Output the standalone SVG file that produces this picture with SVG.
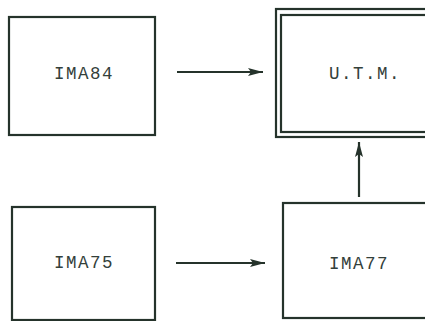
<svg xmlns="http://www.w3.org/2000/svg" width="425" height="321" viewBox="0 0 425 321">
<style>
.box{fill:none;stroke:#25332b;stroke-width:2.2}
.lbl{font-family:"Liberation Mono","DejaVu Sans Mono",monospace;font-size:17.5px;fill:#33403a;text-anchor:middle;letter-spacing:1.5px}
.con{stroke:#25332b;stroke-width:2.2;fill:none}
</style>
<defs>
<marker id="ah" markerWidth="16" markerHeight="10" refX="15" refY="5" orient="auto" markerUnits="userSpaceOnUse">
<path d="M0,1 L15,5 L0,9 L3,5 Z" fill="#25332b"/>
</marker>
</defs>
<rect width="425" height="321" fill="#fff"/>
<g id="ima84">
<rect class="box" x="9" y="17" width="146" height="118"/>
<text class="lbl" x="84" y="79">IMA84</text>
</g>
<g id="utm">
<rect class="box" x="276" y="9" width="160" height="128"/>
<rect class="box" x="281" y="15" width="150" height="117"/>
<text class="lbl" x="365" y="79">U.T.M.</text>
</g>
<g id="ima75">
<rect class="box" x="12" y="207" width="143" height="113"/>
<text class="lbl" x="84" y="268">IMA75</text>
</g>
<g id="ima77">
<rect class="box" x="283" y="203" width="150" height="115"/>
<text class="lbl" x="359" y="269">IMA77</text>
</g>
<g id="connectors">
<line class="con" x1="177" y1="72" x2="263" y2="72" marker-end="url(#ah)"/>
<line class="con" x1="176" y1="263" x2="265" y2="263" marker-end="url(#ah)"/>
<line class="con" x1="359" y1="197" x2="359" y2="142" marker-end="url(#ah)"/>
</g>
</svg>
